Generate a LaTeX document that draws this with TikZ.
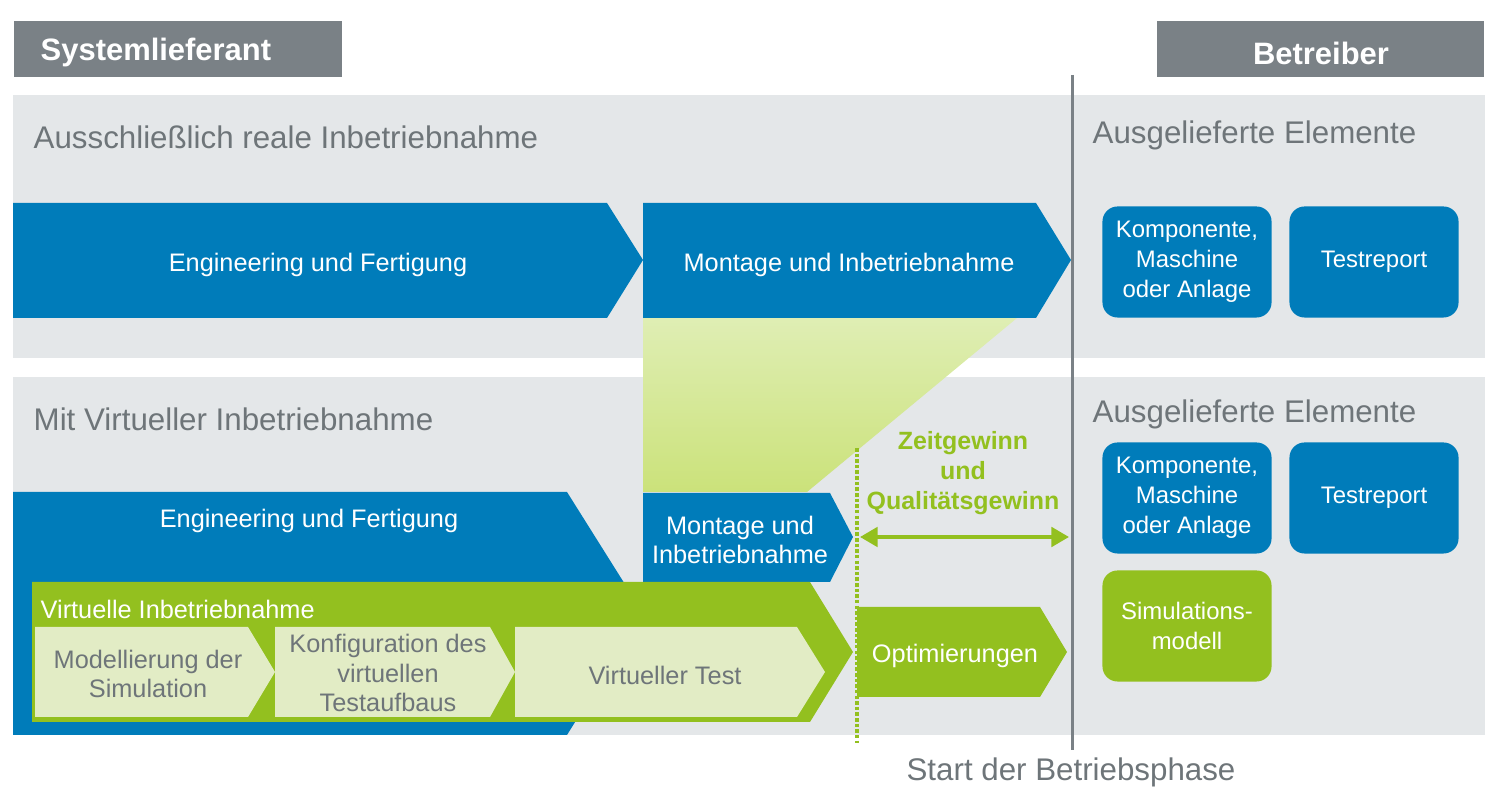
\documentclass[tikz,border=0pt]{standalone}
\usepackage{fontspec}
\setmainfont{Liberation Sans}
\usetikzlibrary{arrows.meta}
\definecolor{vibblue}{HTML}{007CBA}
\definecolor{vibgreen}{HTML}{93C01F}
\definecolor{vibpale}{HTML}{E2ECC5}
\definecolor{vibband}{HTML}{E4E7E9}
\definecolor{vibhead}{HTML}{7A8186}
\definecolor{vibtext}{HTML}{6E7579}
\definecolor{gaintop}{HTML}{DFEEB4}
\definecolor{gainmid}{HTML}{E3EDC8}
\definecolor{gainbot}{HTML}{CBE27A}
\tikzset{
  phase/.style={font=\fontsize{7.2}{8.3}\selectfont, text=white, align=center, inner sep=0pt},
  subphase/.style={phase, text=vibtext},
  title/.style={font=\fontsize{8.9}{10.5}\selectfont, text=vibtext, inner sep=0pt},
  head/.style={font=\bfseries\fontsize{8.8}{10.5}\selectfont, text=white, inner sep=0pt},
  element/.style={rounded corners=4.3pt, minimum width=1.69cm, minimum height=1.11cm,
    inner sep=0pt, align=center, text=white, font=\fontsize{6.8}{8.5}\selectfont},
}
\begin{document}
\begin{tikzpicture}[x=0.01cm, y=-0.01cm]
\useasboundingbox (0,0) rectangle (1500,798);
\fill[vibhead] (14,21) rectangle (342,77);
\fill[vibhead] (1157,21) rectangle (1484,77);
\fill[vibband] (13,95) rectangle (1485,358);
\fill[vibband] (13,377) rectangle (1485,735);
\shade[top color=gaintop, middle color=gainmid, bottom color=gainbot]
  (643,318) -- (1017,318) -- (807,492) -- (643,492) -- cycle;
\fill[vibblue] (13,203) -- (607,203) -- (643,260) -- (607,318) -- (13,318) -- cycle;
\fill[vibblue] (643,203) -- (1036,203) -- (1071,260) -- (1036,318) -- (643,318) -- cycle;
\fill[vibblue] (13,492) -- (567,492) -- (643,613) -- (567,735) -- (13,735) -- cycle;
\fill[vibblue] (643,493) -- (830,493) -- (853,537) -- (830,582) -- (643,582) -- cycle;
\fill[vibgreen] (32,582) -- (810,582) -- (853,652) -- (810,722) -- (32,722) -- cycle;
\fill[vibpale] (35,627) -- (248,627) -- (275,672) -- (248,717) -- (35,717) -- cycle;
\fill[vibpale] (275,627) -- (490,627) -- (515,672) -- (490,717) -- (275,717) -- cycle;
\fill[vibpale] (515,627) -- (797,627) -- (825,672) -- (797,717) -- (515,717) -- cycle;
\fill[vibgreen] (857,607) -- (1040,607) -- (1067,652) -- (1040,697) -- (857,697) -- cycle;
\draw[vibgreen, line width=1.2pt, dash pattern=on 1pt off 0.6pt] (857,448) -- (857,743);
\draw[vibhead, line width=0.85pt] (1072,75) -- (1072,750);
\coordinate (gainL) at (860,537);
\coordinate (gainR) at (1069,537);
\draw[vibgreen, line width=1.1pt, {Triangle[length=5pt,width=5.5pt]}-{Triangle[length=5pt,width=5.5pt]}] (gainL) -- (gainR);
\node[head, anchor=west] (supplier) at (40,53) {Systemlieferant};
\node[head] (operator) at (1321,53) {Betreiber};
\node[title, anchor=west] (realtitle) at (33,137) {Ausschließlich reale Inbetriebnahme};
\node[title, anchor=west] (virttitle) at (33,419) {Mit Virtueller Inbetriebnahme};
\node[title, anchor=west] (delivA) at (1092,135) {Ausgelieferte Elemente};
\node[title, anchor=west] (delivB) at (1092,414) {Ausgelieferte Elemente};
\node[phase] (engA) at (318,265) {Engineering und Fertigung};
\node[phase] (monA) at (849,265) {Montage und Inbetriebnahme};
\node[phase] (engB) at (309,521) {Engineering und Fertigung};
\node[phase] (monB) at (740,540) {Montage und\\Inbetriebnahme};
\node[phase, anchor=west] (vib) at (40,609) {Virtuelle Inbetriebnahme};
\node[subphase] (model) at (148,674) {Modellierung der\\Simulation};
\node[subphase] (config) at (388,673) {Konfiguration des\\virtuellen\\Testaufbaus};
\node[subphase] (vtest) at (665,675) {Virtueller Test};
\node[phase] (optim) at (955,656) {Optimierungen};
\node[phase, text=vibgreen, font=\bfseries\fontsize{7.1}{8.5}\selectfont] (gain) at (963,473) {Zeitgewinn\\und\\Qualitätsgewinn};
\node[title] (start) at (1071,772) {Start der Betriebsphase};
\node[element, fill=vibblue] (compA) at (1187,262) {Komponente,\\Maschine\\oder Anlage};
\node[element, fill=vibblue] (reportA) at (1374,262) {Testreport};
\node[element, fill=vibblue] (compB) at (1187,498) {Komponente,\\Maschine\\oder Anlage};
\node[element, fill=vibblue] (reportB) at (1374,498) {Testreport};
\node[element, fill=vibgreen] (simB) at (1187,626) {Simulations-\\modell};
\end{tikzpicture}
\end{document}
